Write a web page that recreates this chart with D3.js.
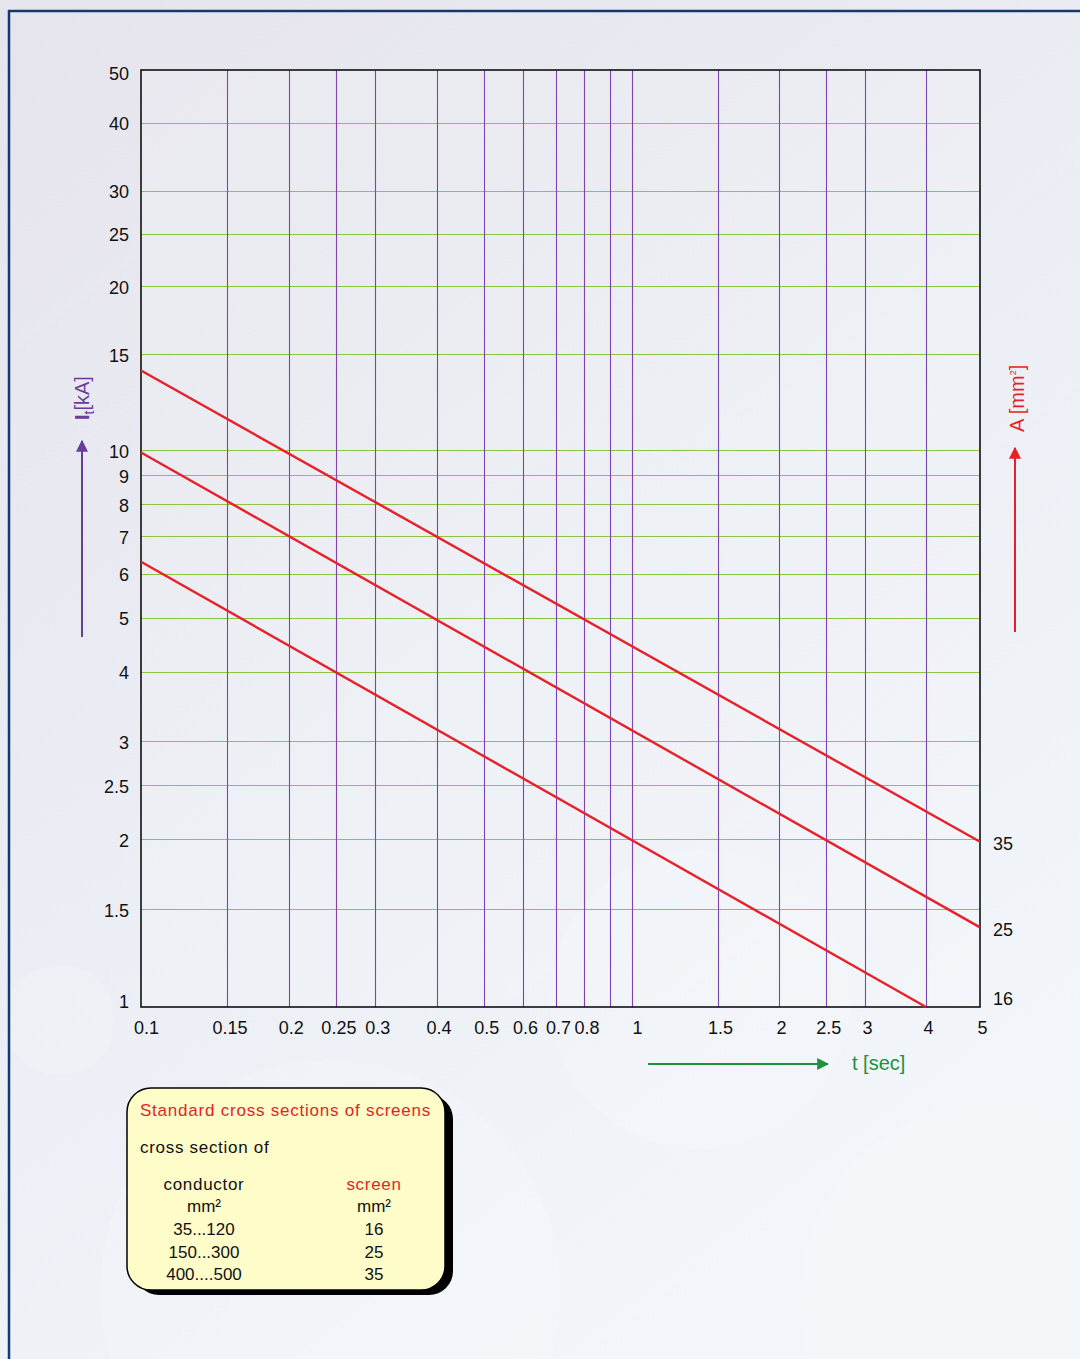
<!DOCTYPE html>
<html>
<head>
<meta charset="utf-8">
<script src="https://cdn.jsdelivr.net/npm/d3@7"></script>
<style>
  html, body { margin: 0; padding: 0; background: #e9e8ef; }
  svg { display: block; font-family: "Liberation Sans", Arial, Helvetica, sans-serif; }
</style>
</head>
<body>
<svg id="chart" width="1080" height="1359"></svg>
<script>
// ---------- data ----------
const xGridValues = [0.15, 0.2, 0.25, 0.3, 0.4, 0.5, 0.6, 0.7, 0.8, 0.9, 1, 1.5, 2, 2.5, 3, 4];
const xTickLabels = [0.1, 0.15, 0.2, 0.25, 0.3, 0.4, 0.5, 0.6, 0.7, 0.8, 1, 1.5, 2, 2.5, 3, 4, 5];
const yGridValues = [40, 30, 25, 20, 15, 10, 9, 8, 7, 6, 5, 4, 3, 2.5, 2, 1.5];
const yTickLabels = [50, 40, 30, 25, 20, 15, 10, 9, 8, 7, 6, 5, 4, 3, 2.5, 2, 1.5, 1];

const seriesNames = ["35", "25", "16"];
const series35 = [[0.1, 14.0], [5, 1.98]];
const series25 = [[0.1, 9.9], [5, 1.39]];
const series16 = [[0.1, 6.3], [4, 1.0]];

const legendTitle = "Standard cross sections of screens";
const legendSub = "cross section of";
const legendHeaders = ["conductor", "screen"];
const legendUnits = ["mm²", "mm²"];
const legendConductor = ["35...120", "150...300", "400....500"];
const legendScreen = ["16", "25", "35"];

// ---------- layout ----------
const svg = d3.select("#chart");
const L = 141, R = 980, T = 70, B = 1007;

const defs = svg.append("defs");
const bg = defs.append("linearGradient").attr("id", "bg")
  .attr("x1", "0").attr("y1", "0").attr("x2", "0.6").attr("y2", "1");
bg.append("stop").attr("offset", "0").attr("stop-color", "#e6e4ed");
bg.append("stop").attr("offset", "0.55").attr("stop-color", "#ebeef4");
bg.append("stop").attr("offset", "1").attr("stop-color", "#f2f6fa");

svg.append("rect").attr("width", 1080).attr("height", 1359).attr("fill", "url(#bg)");
// faint decorative circles
const circ = svg.append("g").attr("stroke", "none");
[[60, 1020, 55], [330, 1290, 230], [700, 1000, 150], [1000, 1300, 200]].forEach(c => {
  circ.append("circle").attr("cx", c[0]).attr("cy", c[1]).attr("r", c[2])
    .attr("fill", "#ffffff").attr("fill-opacity", 0.14);
});
// border
svg.append("path").attr("d", "M9,1359 V11 H1080").attr("fill", "none")
  .attr("stroke", "#16386e").attr("stroke-width", 2.5);

// ---------- scales ----------
const x = d3.scaleLog().domain([0.1, 1, 4, 5]).range([L, 632, 926, R]);
const y = d3.scaleLog().domain([1, 10, 50]).range([B, 450, T]);

const plot = svg.append("g");
plot.append("rect").attr("x", L).attr("y", T).attr("width", R - L).attr("height", B - T)
  .attr("fill", "#ffffff").attr("fill-opacity", 0.12);

// horizontal grid
plot.append("g").selectAll("line").data(yGridValues).join("line")
  .attr("x1", L).attr("x2", R)
  .attr("y1", d => Math.round(y(d)) + 0.5).attr("y2", d => Math.round(y(d)) + 0.5)
  .attr("stroke", "#8cc63e").attr("stroke-width", 1.2);

// vertical grid
plot.append("g").selectAll("line").data(xGridValues).join("line")
  .attr("x1", d => Math.round(x(d)) + 0.5).attr("x2", d => Math.round(x(d)) + 0.5)
  .attr("y1", T).attr("y2", B)
  .attr("stroke", "#7a46b2").attr("stroke-width", 1.1);

// frame
plot.append("rect").attr("x", L).attr("y", T).attr("width", R - L).attr("height", B - T)
  .attr("fill", "none").attr("stroke", "#111").attr("stroke-width", 1.6);

// axes (labels only)
const yAxis = d3.axisLeft(y).tickValues(yTickLabels).tickFormat(d => String(d)).tickSize(0).tickPadding(12);
const gy = svg.append("g").attr("transform", `translate(${L},0)`).call(yAxis);
gy.select(".domain").remove();
gy.selectAll("text").attr("font-size", 18).attr("fill", "#111")
  .attr("font-family", "'Liberation Sans', Arial, sans-serif")
  .attr("dy", d => (d === 50 ? "0.55em" : d === 1 ? "0.05em" : "0.4em"));

const xAxis = d3.axisBottom(x).tickValues(xTickLabels).tickFormat(d => String(d)).tickSize(0).tickPadding(14);
const gx = svg.append("g").attr("transform", `translate(0,${B})`).call(xAxis);
gx.select(".domain").remove();
gx.selectAll("text").attr("font-size", 18).attr("fill", "#111")
  .attr("font-family", "'Liberation Sans', Arial, sans-serif")
  .attr("dx", d => (d === 0.1 ? 5 : d === 1 ? 5 : 2));

// series lines
const line = d3.line().x(d => x(d[0])).y(d => y(d[1]));
const allSeries = [series35, series25, series16];
plot.append("g").selectAll("path").data(allSeries).join("path")
  .attr("d", line).attr("fill", "none").attr("stroke", "#e8202a").attr("stroke-width", 2.4);

// right labels
svg.append("g").selectAll("text").data(allSeries).join("text")
  .attr("x", R + 13)
  .attr("y", d => Math.min(y(d[d.length - 1][1]) + 2, B - 8))
  .attr("dy", "0.35em")
  .attr("font-size", 18).attr("fill", "#111")
  .text((d, i) => seriesNames[i]);

// arrow markers
function marker(id, color) {
  defs.append("marker").attr("id", id).attr("viewBox", "0 0 10 10")
    .attr("refX", 9).attr("refY", 5).attr("markerWidth", 6).attr("markerHeight", 6)
    .attr("markerUnits", "strokeWidth").attr("orient", "auto")
    .append("path").attr("d", "M0,0 L10,5 L0,10 z").attr("fill", color);
}
marker("arPurple", "#6a3d9c");
marker("arRed", "#ee1c25");
marker("arGreen", "#20913c");

// left axis title
svg.append("line").attr("x1", 82).attr("y1", 637).attr("x2", 82).attr("y2", 441)
  .attr("stroke", "#6a3d9c").attr("stroke-width", 2).attr("marker-end", "url(#arPurple)");
const lt = svg.append("text").attr("transform", "translate(89,420) rotate(-90)")
  .attr("font-size", 20).attr("fill", "#6a3d9c");
lt.append("tspan").attr("font-weight", "bold").text("I");
lt.append("tspan").attr("font-size", 14).attr("dy", 5).text("t");
lt.append("tspan").attr("dy", -5).text("[kA]");

// right axis title
svg.append("line").attr("x1", 1015).attr("y1", 632).attr("x2", 1015).attr("y2", 448)
  .attr("stroke", "#ee1c25").attr("stroke-width", 2).attr("marker-end", "url(#arRed)");
const rt = svg.append("text").attr("transform", "translate(1024,432) rotate(-90)")
  .attr("font-size", 20).attr("fill", "#ee1c25");
rt.append("tspan").text("A [mm");
rt.append("tspan").attr("font-size", 9).attr("dy", -8).text("2");
rt.append("tspan").attr("dy", 8).text("]");

// bottom axis title
svg.append("line").attr("x1", 648).attr("y1", 1064).attr("x2", 828).attr("y2", 1064)
  .attr("stroke", "#20913c").attr("stroke-width", 2).attr("marker-end", "url(#arGreen)");
svg.append("text").attr("x", 852).attr("y", 1070).attr("font-size", 20).attr("fill", "#20913c").text("t [sec]");

// ---------- legend box ----------
const lg = svg.append("g");
lg.append("rect").attr("x", 135).attr("y", 1095).attr("width", 318).attr("height", 200)
  .attr("rx", 24).attr("fill", "#000");
lg.append("rect").attr("x", 127).attr("y", 1088).attr("width", 318).attr("height", 202)
  .attr("rx", 24).attr("fill", "#fefcc8").attr("stroke", "#000").attr("stroke-width", 1.5);
lg.append("text").attr("x", 140).attr("y", 1116).attr("font-size", 17).attr("fill", "#ee1c25")
  .attr("letter-spacing", 0.78).text(legendTitle);
lg.append("text").attr("x", 140).attr("y", 1153).attr("font-size", 17).attr("fill", "#111")
  .attr("letter-spacing", 0.7).text(legendSub);
const colX = [204, 374];
const headColors = ["#111", "#ee1c25"];
legendHeaders.forEach((h, i) => {
  lg.append("text").attr("x", colX[i]).attr("y", 1190).attr("text-anchor", "middle")
    .attr("font-size", 17).attr("fill", headColors[i]).attr("letter-spacing", 0.7).text(h);
  lg.append("text").attr("x", colX[i]).attr("y", 1212).attr("text-anchor", "middle")
    .attr("font-size", 17).attr("fill", "#111").text(legendUnits[i]);
});
legendConductor.forEach((c, i) => {
  lg.append("text").attr("x", colX[0]).attr("y", 1235 + i * 22.5).attr("text-anchor", "middle")
    .attr("font-size", 17).attr("fill", "#111").text(c);
  lg.append("text").attr("x", colX[1]).attr("y", 1235 + i * 22.5).attr("text-anchor", "middle")
    .attr("font-size", 17).attr("fill", "#111").text(legendScreen[i]);
});
</script>
</body>
</html>
